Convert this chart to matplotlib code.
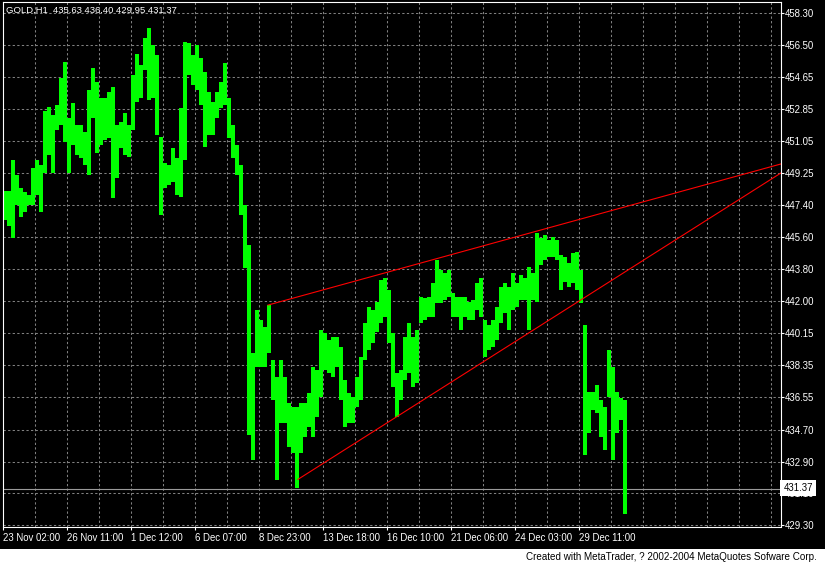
import matplotlib
matplotlib.use('Agg')
import matplotlib.pyplot as plt
from matplotlib.patches import Rectangle
from matplotlib.transforms import blended_transform_factory
import numpy as np

plt.rcParams['font.family'] = ['Liberation Sans', 'DejaVu Sans']

# GOLD H1 in blocks of 4 hourly bars (high / low of each block)
highs = [448.22, 448.22, 449.98, 449.13, 448.39, 448.17, 448.00, 449.53, 449.98, 449.70,
         452.75, 452.98, 452.53, 453.09, 454.62, 455.53, 452.36, 453.21, 451.96, 451.96,
         451.56, 453.94, 455.19, 454.40, 453.49, 453.49, 453.83, 454.11, 451.96, 452.13,
         452.64, 451.96, 454.79, 455.98, 455.36, 456.89, 457.45, 456.49, 455.93, 451.28,
         449.81, 449.70, 450.66, 450.09, 452.92, 456.66, 456.61, 455.93, 456.49, 455.76,
         454.96, 453.83, 453.26, 453.83, 454.40, 455.47, 453.49, 451.96, 450.83, 449.70,
         447.43, 445.17, 439.05, 441.49, 440.92, 440.52, 441.77, 438.65, 437.69, 438.65,
         437.69, 436.22, 435.99, 435.99, 436.22, 436.22, 436.78, 438.26, 438.09, 440.35,
         440.18, 439.79, 439.96, 439.96, 439.39, 437.52, 436.78, 436.56, 437.69, 438.82,
         440.75, 441.66, 441.49, 441.94, 443.18, 443.30, 442.62, 440.18, 437.92, 438.09,
         439.96, 440.75, 439.96, 440.35, 442.22, 442.16, 442.22, 443.01, 444.32, 443.75,
         443.58, 443.75, 442.45, 442.22, 442.22, 442.22, 441.94, 442.05, 443.01, 443.30,
         440.92, 440.63, 440.92, 441.66, 442.79, 443.01, 442.79, 443.58, 443.01, 443.47,
         443.30, 443.92, 443.58, 445.85, 445.56, 445.73, 445.45, 445.62, 445.45, 444.60,
         444.49, 444.15, 444.71, 444.77, 443.75, 440.63, 436.84, 436.84, 437.24, 436.39,
         435.99, 439.22, 438.26, 436.84, 436.50, 436.40]
lows = [446.58, 446.24, 445.56, 447.43, 446.75, 447.04, 447.43, 447.43, 448.00, 447.04,
        449.24, 450.26, 449.24, 451.68, 451.96, 451.00, 449.24, 450.83, 450.26, 450.09,
        449.70, 449.13, 452.36, 450.38, 450.83, 451.11, 451.23, 447.83, 448.96, 450.66,
        450.26, 450.15, 451.68, 453.26, 453.49, 455.08, 453.38, 453.49, 451.39, 446.86,
        448.39, 448.56, 448.73, 448.00, 447.88, 449.98, 454.79, 454.23, 453.94, 453.09,
        450.72, 451.39, 451.39, 452.36, 452.92, 453.09, 451.23, 450.09, 449.13, 446.86,
        443.86, 434.41, 432.99, 438.26, 438.26, 438.26, 439.05, 436.39, 431.86, 435.09,
        435.09, 433.73, 433.39, 431.40, 433.39, 434.29, 434.86, 434.29, 435.43, 436.56,
        438.09, 437.92, 437.69, 438.26, 436.39, 434.86, 435.09, 435.09, 435.99, 436.39,
        438.65, 439.22, 439.62, 440.24, 440.75, 441.09, 439.62, 437.12, 435.43, 436.39,
        437.52, 437.92, 437.12, 437.35, 440.75, 440.92, 441.09, 441.09, 441.88, 441.88,
        442.05, 442.22, 441.09, 441.09, 440.35, 441.09, 440.92, 440.92, 441.49, 441.09,
        438.82, 439.22, 439.39, 439.79, 440.75, 441.32, 440.35, 441.49, 441.66, 442.05,
        442.05, 440.35, 442.05, 441.94, 444.03, 444.32, 444.49, 444.49, 444.32, 442.62,
        443.07, 442.79, 443.01, 442.62, 441.88, 433.27, 434.52, 435.82, 435.65, 434.29,
        433.56, 436.56, 432.99, 434.52, 435.26, 429.95]

bars_per_block = 4
date_labels = ['23 Nov 02:00', '26 Nov 11:00', '1 Dec 12:00', '6 Dec 07:00', '8 Dec 23:00',
               '13 Dec 18:00', '16 Dec 10:00', '21 Dec 06:00', '24 Dec 03:00', '29 Dec 11:00']
date_ticks = [0, 64, 128, 192, 256, 320, 384, 448, 512, 576]
price_ticks = [458.30, 456.50, 454.65, 452.85, 451.05, 449.25, 447.40, 445.60, 443.80,
               442.00, 440.15, 438.35, 436.55, 434.70, 432.90, 431.10, 429.30]
last_bar = [435.63, 436.40, 429.95, 431.37]  # open high low close

# trend lines (bar index, price)
upper_x, upper_y = [265, 778], [441.76, 449.75]
lower_x, lower_y = [295, 778], [431.89, 449.24]

W, H = 825, 565
fig = plt.figure(figsize=(W / 100, H / 100), dpi=100, facecolor='black')
fig.patches.append(Rectangle((0, 0), 1, 16.5 / H, transform=fig.transFigure,
                             facecolor='white', edgecolor='none', zorder=0))

ax = fig.add_axes([2.5 / W, (H - 526.5) / H, (781 - 2.5) / W, (526.5 - 2) / H])
ax.set_facecolor('black')

x = np.arange(len(highs)) * bars_per_block
h = np.array(highs)
l = np.array(lows)
ax.bar(x, h - l, bottom=l, width=bars_per_block, align='edge',
       color='#00ff00', linewidth=0, zorder=3)

ax.plot(upper_x, upper_y, color='#ff0000', lw=0.8, zorder=4)
ax.plot(lower_x, lower_y, color='#ff0000', lw=0.8, zorder=4)

ax.axhline(last_bar[3], color='#9a9a9a', lw=0.8, zorder=2)

ax.set_xlim(-0.5, 778)
ax.set_ylim(429.22, 458.92)

# grid
for gx in range(32, 778, 32):
    ax.axvline(gx, color='#808080', lw=0.75, dashes=(2.2, 2.2), zorder=1)
for gy in price_ticks:
    ax.axhline(gy, color='#808080', lw=0.75, dashes=(2.2, 2.2), zorder=1)

for s in ax.spines.values():
    s.set_color('white')
    s.set_linewidth(0.8)
    s.set_zorder(5)

ax.yaxis.tick_right()
ax.set_yticks(price_ticks)
ax.set_yticklabels(['%.2f' % p for p in price_ticks])
ax.set_xticks(date_ticks)
ax.set_xticklabels(date_labels, ha='left')
ax.tick_params(colors='white', labelsize=6.9, length=2.5, width=0.8, pad=0.3)
ax.tick_params(axis='x', pad=2)

trans = blended_transform_factory(ax.transAxes, ax.transData)
ax.text(1.003, last_bar[3] + 0.05, '%.2f' % last_bar[3], transform=trans, ha='left', va='center',
        fontsize=6.9, color='black', clip_on=False, zorder=10,
        bbox=dict(boxstyle='square,pad=0.3', facecolor='white', edgecolor='none'))

fig.text(6 / W, 1 - 10 / H, 'GOLD,H1  %.2f %.2f %.2f %.2f' % tuple(last_bar),
         color='white', fontsize=6.8, ha='left', va='center')
fig.text(817 / W, 7.5 / H, 'Created with MetaTrader, ? 2002-2004 MetaQuotes Sofware Corp.',
         color='black', fontsize=7.1, ha='right', va='center')

fig.savefig('out.png', dpi=100, facecolor='black')
